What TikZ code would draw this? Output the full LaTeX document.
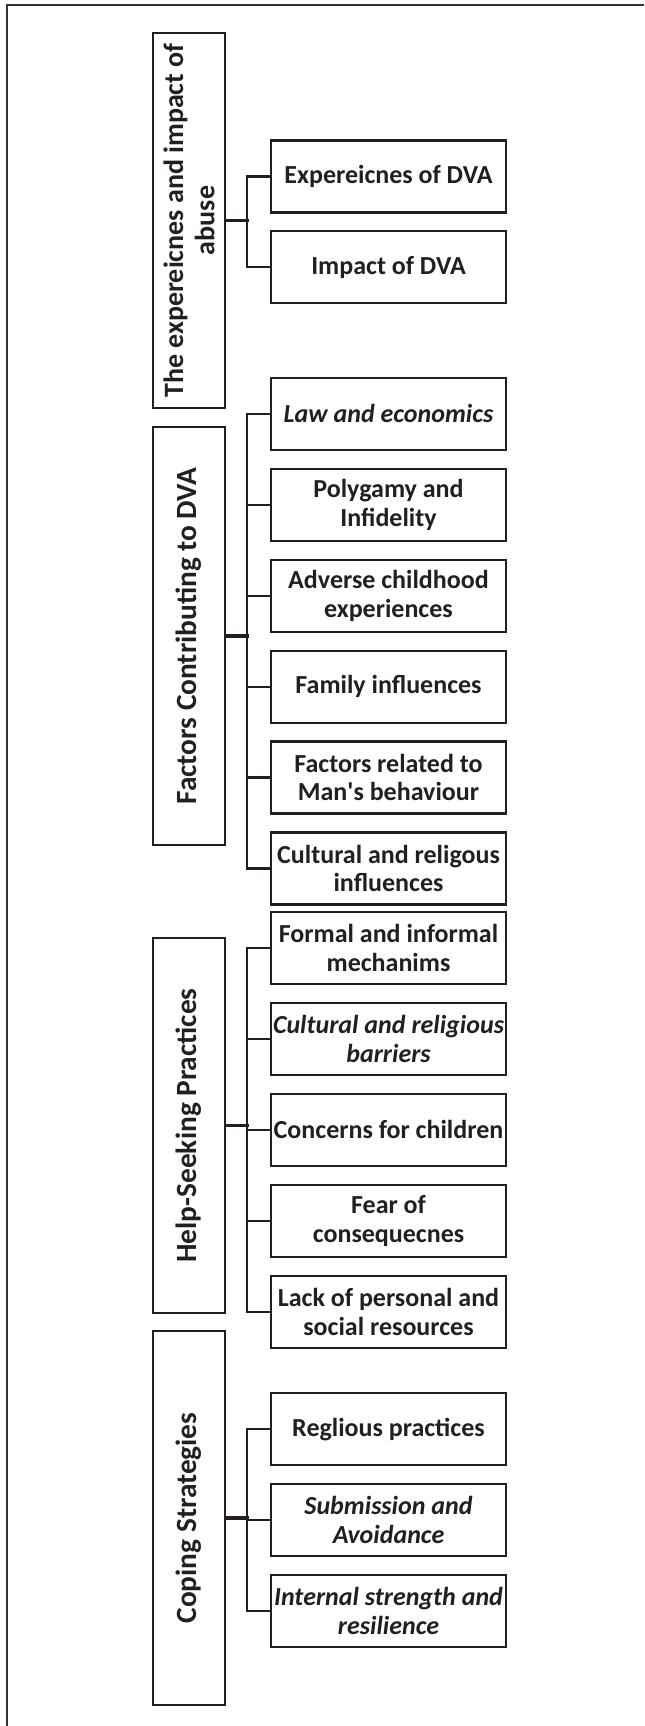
\documentclass[tikz,border=0pt]{standalone}
\usepackage{fontspec}
\setmainfont{Carlito}
\usetikzlibrary{positioning}
\definecolor{inkgray}{HTML}{231F20}
\tikzset{
  theme box/.style={draw=inkgray, line width=1.6pt, rotate=90, inner sep=2pt,
    minimum width=281pt, minimum height=54pt, align=center, text=inkgray,
    font=\fontsize{22}{23.5}\selectfont\bfseries},
  code box/.style={draw=inkgray, line width=1.6pt, inner sep=1pt,
    minimum width=176pt, minimum height=54pt, align=center, text=inkgray,
    font=\fontsize{19.5}{21.5}\selectfont\bfseries},
  italic code/.style={font=\fontsize{19.5}{21.5}\selectfont\bfseries\itshape},
  link line/.style={draw=inkgray, line width=1.6pt},
  stub line/.style={draw=inkgray, line width=2.4pt},
  frame line/.style={draw=black!80, line width=1.4pt},
}
\begin{document}
\begin{tikzpicture}[x=0.75pt, y=-0.75pt, node distance=12.6pt]
  \useasboundingbox (0,0) rectangle (644,1726);
  \draw[frame line] (644,5) -- (7,5) -- (7,1726);

  % themes (rotated: .south is the right-hand side)
  \node[theme box, font=\fontsize{21}{23.5}\selectfont\bfseries] (abuse) at (189,220.5) {The expereicnes and impact of\\abuse};
  \node[theme box, minimum width=313.5pt] (factors) at (189,636) {Factors Contributing to DVA};
  \node[theme box] (help) at (189,1125.5) {Help-Seeking Practices};
  \node[theme box] (coping) at (189,1518) {Coping Strategies};

  % sub-themes
  \node[code box] (exper) at (388.5,176.5) {Expereicnes of DVA};
  \node[code box, below=of exper] (impact) {Impact of DVA};

  \node[code box, italic code] (law) at (388.5,413.8) {Law and economics};
  \node[code box, below=of law] (polyg) {Polygamy and\\Infidelity};
  \node[code box, below=of polyg] (adverse) {Adverse childhood\\experiences};
  \node[code box, below=of adverse] (family) {Family influences};
  \node[code box, below=of family] (manbeh) {Factors related to\\Man\textquotesingle s behaviour};
  \node[code box, below=of manbeh] (cultinf) {Cultural and religous\\influences};

  \node[code box] (formal) at (388.5,947.9) {Formal and informal\\mechanims};
  \node[code box, below=of formal, italic code] (barriers) {Cultural and religious\\barriers};
  \node[code box, below=of barriers] (children) {Concerns for children};
  \node[code box, below=of children] (fear) {Fear of\\consequecnes};
  \node[code box, below=of fear] (lack) {Lack of personal and\\social resources};

  \node[code box] (relig) at (388.5,1429.2) {Reglious practices};
  \node[code box, below=of relig, italic code] (submit) {Submission and\\Avoidance};
  \node[code box, below=of submit, italic code] (strength) {Internal strength and\\resilience};

  % brackets
  \foreach \c in {exper,impact}
    \draw[link line] (\c.west) -- ++(-17.25pt,0) |- (abuse.south);
  \foreach \c in {law,polyg,adverse,family,manbeh,cultinf}
    \draw[link line] (\c.west) -- ++(-17.25pt,0) |- (factors.south);
  \foreach \c in {formal,barriers,children,fear,lack}
    \draw[link line] (\c.west) -- ++(-17.25pt,0) |- (help.south);
  \foreach \c in {relig,submit,strength}
    \draw[link line] (\c.west) -- ++(-17.25pt,0) |- (coping.south);
  \foreach \p in {abuse,factors,help,coping}
    \draw[stub line] (\p.south) -- ++(17.25pt,0);
\end{tikzpicture}
\end{document}
